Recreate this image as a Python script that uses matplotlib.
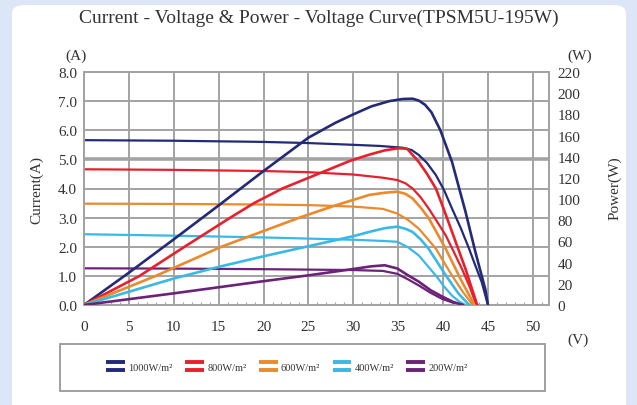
import matplotlib
matplotlib.use("Agg")
import matplotlib.pyplot as plt
from matplotlib.lines import Line2D
from matplotlib.legend_handler import HandlerBase
from matplotlib.patches import Rectangle, FancyBboxPatch

plt.rcParams['font.family'] = ['Liberation Serif', 'DejaVu Serif']

title = "Current - Voltage & Power - Voltage Curve(TPSM5U-195W)"
labels = ["1000W/m²", "800W/m²", "600W/m²", "400W/m²", "200W/m²"]
colors = ["#232a78", "#e8202e", "#ea8a2c", "#3ab8e6", "#6b2378"]

# I-V curves (voltage V, current A)
iv_v_1000 = [0, 10, 20, 25, 30, 33, 35.5, 36.5, 37.3, 38.2, 39.2, 40.1, 41.0, 42.0, 42.9, 43.6, 44.3, 45.0]
iv_i_1000 = [5.66, 5.64, 5.60, 5.56, 5.50, 5.46, 5.40, 5.32, 5.15, 4.88, 4.46, 3.95, 3.31, 2.62, 1.93, 1.35, 0.79, 0.0]
iv_v_800 = [0, 10, 20, 25, 30, 33.3, 34.9, 35.8, 36.6, 37.5, 38.4, 39.3, 40.3, 41.2, 42.1, 43.0, 43.7]
iv_i_800 = [4.66, 4.64, 4.60, 4.56, 4.48, 4.37, 4.29, 4.18, 4.00, 3.70, 3.31, 2.88, 2.39, 1.82, 1.24, 0.60, 0.0]
iv_v_600 = [0, 10, 20, 25, 30, 33.3, 34.9, 36.1, 37.3, 38.2, 39.2, 40.1, 41.0, 42.2, 43.3]
iv_i_600 = [3.48, 3.47, 3.45, 3.43, 3.38, 3.30, 3.14, 2.92, 2.62, 2.30, 1.93, 1.47, 1.01, 0.45, 0.0]
iv_v_400 = [0, 10, 20, 25, 30, 33.3, 34.9, 36.1, 37.3, 38.2, 39.2, 40.1, 41.0, 41.8, 42.5]
iv_i_400 = [2.43, 2.38, 2.32, 2.28, 2.24, 2.20, 2.17, 1.98, 1.70, 1.37, 1.01, 0.64, 0.32, 0.12, 0.0]
iv_v_200 = [0, 10, 20, 30, 33.3, 34.9, 36.1, 37.3, 38.6, 39.9, 41.1, 42.2]
iv_i_200 = [1.26, 1.25, 1.23, 1.20, 1.17, 1.07, 0.88, 0.67, 0.42, 0.21, 0.08, 0.0]

# P-V curves (voltage V, power W)
pv_v_1000 = [0, 5, 10, 15, 20, 25, 28, 30, 32, 34, 35.5, 36.6, 37.3, 38.0, 38.7, 39.7, 41.0, 42.5, 43.6, 44.7, 45.0]
pv_p_1000 = [0, 30.5, 62, 94, 126.5, 158, 172, 180, 187.5, 192.5, 194.5, 194.8, 193, 189, 182, 165, 135, 88, 50, 15, 0]
pv_v_800 = [0, 6.2, 11.2, 16.3, 19.0, 22.1, 26.0, 29.6, 31.8, 33.5, 35.0, 36.0, 37.3, 38.2, 39.2, 40.1, 41.0, 42.5, 43.8]
pv_p_800 = [0, 27.5, 55, 82.5, 96.5, 110, 123.5, 136, 142, 146, 148, 147.5, 135, 124, 110, 90, 69, 34, 0]
pv_v_600 = [0, 8.0, 15.3, 24.0, 28.0, 31.8, 33.5, 34.9, 35.8, 36.6, 37.5, 38.4, 40.3, 42.1, 43.5]
pv_p_600 = [0, 27.5, 55, 82.5, 94, 104, 106, 107, 105, 100.6, 92, 82, 53, 22, 0]
pv_v_400 = [0, 5, 10, 15, 20, 25, 30, 32, 33.5, 34.9, 35.8, 36.6, 37.5, 38.4, 40.3, 41.7, 42.9]
pv_p_400 = [0, 12.5, 25, 36, 46, 55.5, 65, 69.5, 72.5, 74, 72, 69, 62, 53, 28, 11, 0]
pv_v_200 = [0, 10, 20, 25, 30, 32, 33.5, 34.9, 36.1, 37.3, 38.6, 39.9, 41.1, 42.2]
pv_p_200 = [0, 11, 22.5, 28, 34, 36.5, 37.5, 34.5, 28, 22, 14, 8, 3, 0]

iv_v = [iv_v_1000, iv_v_800, iv_v_600, iv_v_400, iv_v_200]
iv_i = [iv_i_1000, iv_i_800, iv_i_600, iv_i_400, iv_i_200]
pv_v = [pv_v_1000, pv_v_800, pv_v_600, pv_v_400, pv_v_200]
pv_p = [pv_p_1000, pv_p_800, pv_p_600, pv_p_400, pv_p_200]

x_ticks = [0, 5, 10, 15, 20, 25, 30, 35, 40, 45, 50]
left_ticks = [0, 1, 2, 3, 4, 5, 6, 7, 8]
right_ticks = [0, 20, 40, 60, 80, 100, 120, 140, 160, 180, 200, 220]

W, H = 637, 406
fig = plt.figure(figsize=(W / 100, H / 100), dpi=100)
fig.patch.set_facecolor("#dde6f6")
# white panel
fig.patches.append(FancyBboxPatch((12 / W, -0.05), (626 - 12) / W, (H - 6) / H + 0.05,
                                  boxstyle="round,pad=0,rounding_size=0.02",
                                  transform=fig.transFigure, facecolor="white",
                                  edgecolor="none", zorder=-10))
# legend box
fig.patches.append(Rectangle((60 / W, 1 - 392 / H), (545 - 60) / W, (392 - 345) / H,
                             transform=fig.transFigure, facecolor="white",
                             edgecolor="#999999", lw=1.3, zorder=-5))

ax = fig.add_axes([84 / W, (H - 306) / H, (549 - 84) / W, (306 - 73) / H])
ax.set_facecolor("white")
ax2 = ax.twinx()

grid_c = "#a3a3a3"
ax.set_xlim(0, 51.8)
ax.set_ylim(0, 8)
ax2.set_ylim(0, 220)

for y in left_ticks:
    ax.axhline(y, color=grid_c, lw=2.6 if y == 5 else 1.4, zorder=1)
for x in x_ticks:
    ax.axvline(x, color=grid_c, lw=1.4, zorder=1)

for s in ax.spines.values():
    s.set_color(grid_c)
    s.set_linewidth(1.4)
for s in ax2.spines.values():
    s.set_color(grid_c)
    s.set_linewidth(1.4)

for k in range(5):
    ax.plot(iv_v[k], iv_i[k], color=colors[k], lw=1.6, zorder=3, solid_joinstyle="round")
    ax2.plot(pv_v[k], pv_p[k], color=colors[k], lw=1.9, zorder=3, solid_joinstyle="round",
             label=labels[k])

ax.set_xticks(x_ticks)
ax.set_xticklabels([str(t) for t in x_ticks], fontsize=11, color="#333333")
ax.set_xticks(range(0, 52), minor=True)
ax.tick_params(axis="x", which="minor", direction="in", length=2.5, color=grid_c, width=0.8)
ax.tick_params(axis="x", which="major", length=0, pad=11)
ax.set_yticks(left_ticks)
ax.set_yticklabels([f"{t:.1f}" for t in left_ticks], fontsize=11, color="#333333")
ax.tick_params(axis="y", length=0, pad=5)
ax2.set_yticks(right_ticks)
ax2.set_yticklabels([str(t) for t in right_ticks], fontsize=11, color="#333333")
ax2.tick_params(axis="y", length=0, pad=6)

fig.text(0.5, 1 - 18 / H, title, ha="center", va="center", fontsize=14, color="#333333")
fig.text(76 / W, 1 - 56 / H, "(A)", ha="center", va="center", fontsize=11, color="#333333")
fig.text(580 / W, 1 - 56 / H, "(W)", ha="center", va="center", fontsize=11, color="#333333")
fig.text(578 / W, 1 - 340 / H, "(V)", ha="center", va="center", fontsize=11, color="#333333")
fig.text(37 / W, 1 - 190 / H, "Current(A)", ha="center", va="center", rotation=90,
         fontsize=11, color="#333333")
fig.text(615 / W, 1 - 188 / H, "Power(W)", ha="center", va="center", rotation=90,
         fontsize=11, color="#333333")


class DoubleLine(HandlerBase):
    def create_artists(self, legend, orig_handle, xdescent, ydescent, width, height,
                       fontsize, trans):
        c = orig_handle.get_color()
        y0 = height / 2 - ydescent
        l1 = Line2D([-xdescent, width - xdescent], [y0 + 3.2, y0 + 3.2], color=c, lw=2.8,
                    solid_capstyle="butt", transform=trans)
        l2 = Line2D([-xdescent, width - xdescent], [y0 - 3.2, y0 - 3.2], color=c, lw=2.8,
                    solid_capstyle="butt", transform=trans)
        return [l1, l2]


handles, labs = ax2.get_legend_handles_labels()
leg = fig.legend(handles, labs, loc="center", bbox_to_anchor=(287 / W, 1 - 368 / H),
                 ncol=5, frameon=False, fontsize=7.5, handlelength=1.8, handletextpad=0.3,
                 columnspacing=1.2, handler_map={Line2D: DoubleLine()})
for t in leg.get_texts():
    t.set_color("#333333")

fig.savefig("out.png", dpi=100, facecolor=fig.get_facecolor())
